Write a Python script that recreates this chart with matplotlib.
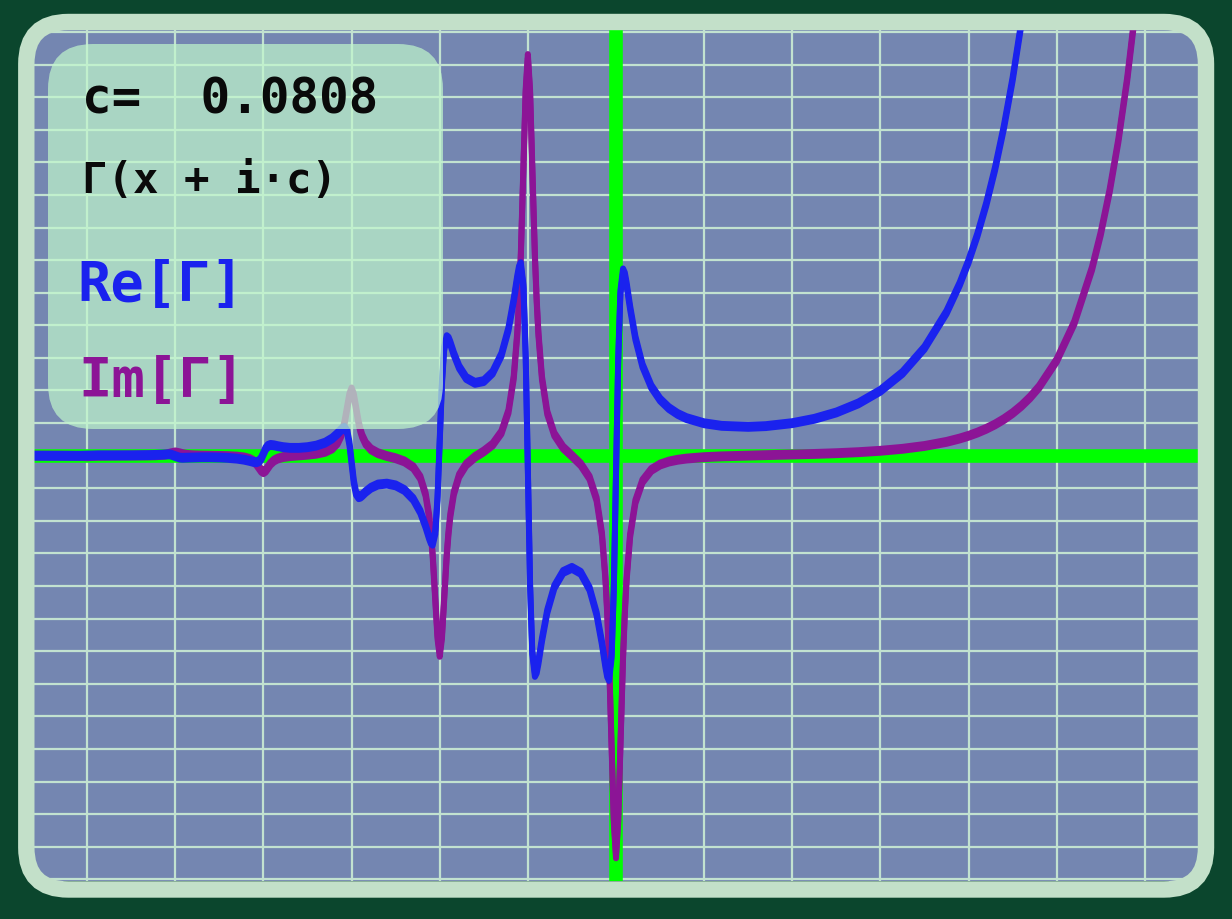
#!/usr/bin/env python3
# -*- coding: utf-8 -*-

import matplotlib
matplotlib.use('Agg')
import matplotlib.pyplot as plt
import matplotlib.patheffects as pe
from matplotlib.patches import FancyBboxPatch
from matplotlib.transforms import IdentityTransform


# values: x, Re[G(x + i c)], Im[G(x + i c)]
x_vals = [-6.6, -6.3, -6.12, -6.0, -5.88, -5.7, -5.5, -5.3, -5.22, -5.12,
          -5.08, -5.05, -5.0, -4.95, -4.92, -4.88, -4.84, -4.78, -4.7, -4.6,
          -4.5, -4.4, -4.3, -4.22, -4.16, -4.12, -4.08, -4.05, -4.025, -4.0,
          -3.975, -3.95, -3.92, -3.88, -3.84, -3.78, -3.7, -3.6, -3.5, -3.4,
          -3.3, -3.22, -3.16, -3.12, -3.1, -3.08, -3.05, -3.025, -3.0, -2.975,
          -2.95, -2.92, -2.9, -2.88, -2.84, -2.78, -2.7, -2.6, -2.5, -2.4,
          -2.3, -2.22, -2.16, -2.12, -2.1, -2.08, -2.05, -2.025, -2.0, -1.975,
          -1.95, -1.92, -1.9, -1.88, -1.84, -1.78, -1.7, -1.6, -1.5, -1.4,
          -1.3, -1.22, -1.16, -1.12, -1.1, -1.08, -1.05, -1.025, -1.0, -0.975,
          -0.95, -0.92, -0.9, -0.88, -0.84, -0.78, -0.7, -0.6, -0.5, -0.4,
          -0.3, -0.22, -0.16, -0.12, -0.1, -0.08, -0.05, -0.025, 0.0, 0.025,
          0.05, 0.08, 0.1, 0.12, 0.16, 0.22, 0.3, 0.4, 0.5, 0.6,
          0.7, 0.8, 1.0, 1.2, 1.5, 1.7, 2.0, 2.25, 2.5, 2.75,
          3.0, 3.25, 3.5, 3.75, 3.9, 4.0, 4.1, 4.2, 4.3, 4.4,
          4.5, 4.6, 4.7, 4.8, 5.0, 5.2, 5.4, 5.5, 5.6, 5.7,
          5.8, 5.9, 6.0]

re_vals = [-0.0015, -0.003, -0.0054, 0.0026, 0.0106, 0.0089, 0.0105, 0.0173, 0.0236, 0.0362,
           0.0394, 0.0331, -0.0142, -0.0617, -0.0681, -0.0655, -0.0606, -0.055, -0.0509, -0.0517,
           -0.0576, -0.0698, -0.0921, -0.1242, -0.16, -0.188, -0.2038, -0.1734, -0.0856, 0.0628,
           0.2112, 0.299, 0.3299, 0.317, 0.2918, 0.262, 0.2389, 0.2381, 0.2599, 0.3085,
           0.3986, 0.5289, 0.6741, 0.7875, 0.8331, 0.849, 0.7313, 0.3823, -0.2094, -0.8014,
           -1.1528, -1.2747, -1.2607, -1.2171, -1.1122, -0.9853, -0.8851, -0.8586, -0.9121, -1.056,
           -1.3338, -1.7227, -2.1641, -2.5091, -2.6505, -2.7017, -2.3521, -1.3088, 0.4614, 2.2326,
           3.2793, 3.6357, 3.5888, 3.4531, 3.1249, 2.7193, 2.3839, 2.2333, 2.2878, 2.5487,
           3.0965, 3.8839, 4.776, 5.4753, 5.7642, 5.8733, 5.1838, 3.1067, -0.4228, -3.9531,
           -6.0328, -6.7279, -6.621, -6.3359, -5.6482, -4.7809, -4.0307, -3.57, -3.4428, -3.5957,
           -4.0832, -4.8573, -5.7433, -6.4443, -6.7355, -6.8497, -6.1666, -4.0971, -0.5772, 2.9415,
           5.0077, 5.6837, 5.563, 5.2636, 4.5412, 3.6102, 2.7685, 2.1202, 1.7215, 1.46,
           1.2797, 1.152, 0.9935, 0.9141, 0.8835, 0.9062, 0.9973, 1.1297, 1.3251, 1.6025,
           1.9919, 2.5377, 3.3066, 4.3984, 5.268, 5.9635, 6.77, 7.7064, 8.796, 10.066,
           11.549, 13.283, 15.33, 17.7, 23.8, 32.3, 44.2, 51.9, 61.0, 71.9,
           84.8, 100.3, 118.9]

im_vals = [0.0, -0.001, -0.0054, -0.0171, -0.0054, -0.0003, 0.0016, 0.005, 0.0106, 0.0304,
           0.0496, 0.0722, 0.1007, 0.0722, 0.0496, 0.0297, 0.0179, 0.0086, 0.0022, -0.002,
           -0.0078, -0.0148, -0.0292, -0.0551, -0.0981, -0.1538, -0.2521, -0.3643, -0.4618, -0.5067,
           -0.4614, -0.3633, -0.2496, -0.1489, -0.0915, -0.0456, -0.0147, 0.0087, 0.0289, 0.0595,
           0.1182, 0.2227, 0.3952, 0.6183, 0.7881, 1.0136, 1.4625, 1.8523, 2.0318, 1.8507,
           1.4585, 1.006, 0.7768, 0.6035, 0.375, 0.1933, 0.0738, -0.0116, -0.0802, -0.1773,
           -0.3575, -0.6743, -1.1944, -1.8654, -2.378, -3.0598, -4.4043, -5.5732, -6.1123, -5.5685,
           -4.3921, -3.0375, -2.3537, -1.8363, -1.1549, -0.6171, -0.2715, -0.0405, 0.13, 0.3398,
           0.7145, 1.3577, 2.4051, 3.7519, 4.7777, 6.1425, 8.839, 11.1817, 12.262, 11.177,
           8.8278, 6.1243, 4.7607, 3.7313, 2.3774, 1.3182, 0.6555, 0.2475, -0.005, -0.2688,
           -0.6782, -1.3426, -2.404, -3.7597, -4.7922, -6.1579, -8.8618, -11.212, -12.296, -11.2178,
           -8.8764, -6.1813, -4.8217, -3.7955, -2.4534, -1.4145, -0.7859, -0.4393, -0.273, -0.1814,
           -0.1258, -0.0895, -0.0466, -0.0214, 0.0026, 0.0153, 0.0342, 0.0524, 0.0755, 0.1064,
           0.1491, 0.2095, 0.2962, 0.4226, 0.526, 0.609, 0.7069, 0.8219, 0.9572, 1.1169,
           1.3053, 1.5282, 1.7922, 2.1055, 2.9206, 4.0785, 5.7333, 6.8137, 8.1108, 9.6706,
           11.547, 13.821, 16.54]

c_value = 0.0808
grid_x = list(range(-6, 7))
grid_y = list(range(-13, 14))

# colours
bg_dark = '#0b462d'
frame_col = '#c3e0c9'
plot_bg = '#7486b1'
grid_col = '#c2e2d0'
axis_green = '#00ff00'
re_col = '#1a22ee'
im_col = '#8c1496'

W, H = 1232, 920
fig = plt.figure(figsize=(W / 100, H / 100), dpi=100, facecolor=bg_dark)

# plot area (pixel box 34..1198 x 31..882)
ax = fig.add_axes([34.3 / W, (H - 882.3) / H, 1163.4 / W, 851.3 / H])
ax.set_facecolor(plot_bg)
ax.set_xlim(-6.6, 6.6)
ax.set_ylim(-13.06, 13.06)
for s in ax.spines.values():
    s.set_visible(False)
ax.set_xticks(grid_x)
ax.set_yticks(grid_y)
ax.tick_params(length=0, labelbottom=False, labelleft=False)
ax.grid(True, color=grid_col, linewidth=1.6, zorder=0)
ax.set_axisbelow(True)

# green axes
ax.axhline(0, color=axis_green, linewidth=9.8, zorder=2)
ax.axvline(0, color=axis_green, linewidth=9.8, zorder=2)

# the pen in the original is taller than it is wide
pen = [pe.Stroke(offset=(0, 1.4)), pe.Stroke(offset=(0, -1.4))]
ax.plot(x_vals, im_vals, color=im_col, linewidth=4.3,
        solid_joinstyle='round', path_effects=pen, zorder=3)
ax.plot(x_vals, re_vals, color=re_col, linewidth=4.3,
        solid_joinstyle='round', path_effects=pen, zorder=4)

# translucent label box
box = FancyBboxPatch((48, H - 430), 395, 385,
                     boxstyle='round,pad=0,rounding_size=45',
                     transform=IdentityTransform(), facecolor='#c1f7cc',
                     edgecolor='none', alpha=0.7, zorder=5)
fig.add_artist(box)

# rounded frame around the plot
frame = FancyBboxPatch((26.3, H - 890.5), 1206 - 26.3, 890.5 - 23,
                       boxstyle='round,pad=0,rounding_size=42',
                       transform=IdentityTransform(), facecolor='none',
                       edgecolor=frame_col, linewidth=11.8, zorder=10)
fig.add_artist(frame)

mono = dict(family='DejaVu Sans Mono', weight='bold', ha='center',
            va='baseline', zorder=12)
fig.text(230.5 / W, 1 - 113.3 / H, 'c=  %.4f' % c_value,
         fontsize=35.5, color='#0a0a0a', **mono)
fig.text(210 / W, 1 - 193.3 / H, 'Γ(x + i·c)',
         fontsize=30.5, color='#0a0a0a', **mono)
fig.text(161 / W, 1 - 300.7 / H, 'Re[Γ]', fontsize=40, color=re_col, **mono)
fig.text(161.7 / W, 1 - 396.7 / H, 'Im[Γ]', fontsize=40, color=im_col, **mono)

fig.savefig('out.png', dpi=100, facecolor=bg_dark)
